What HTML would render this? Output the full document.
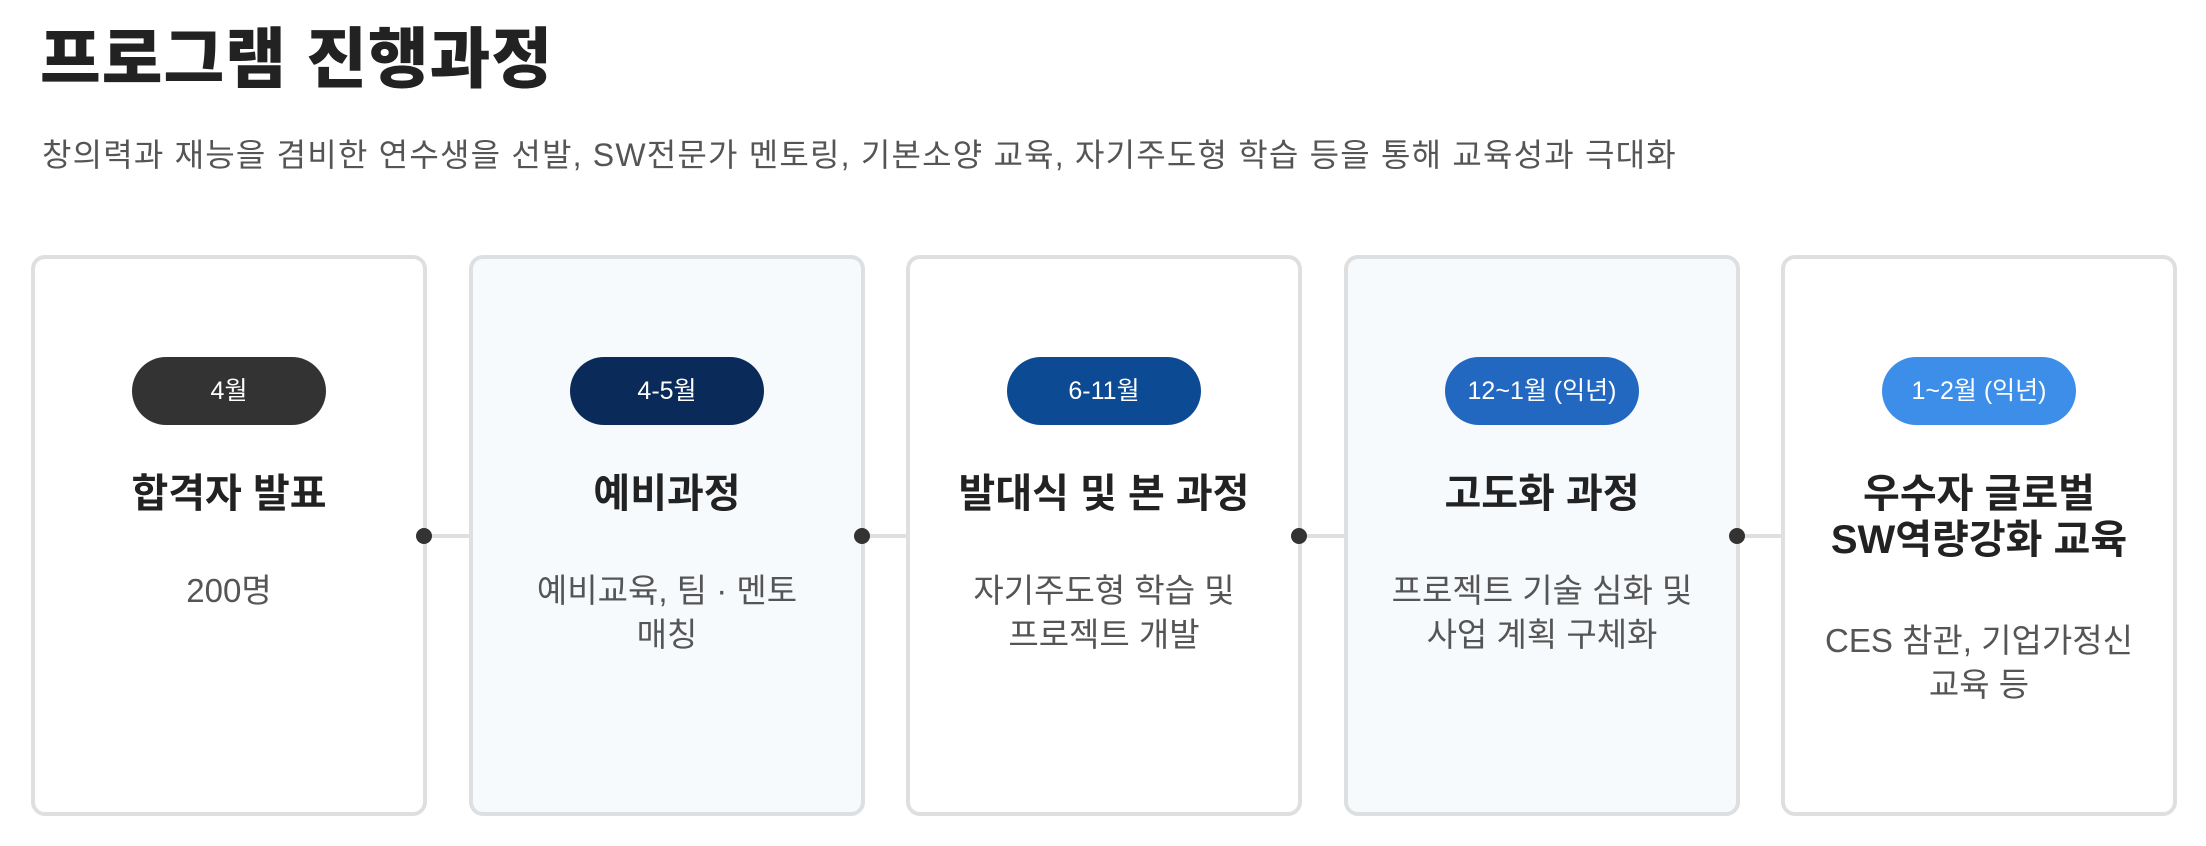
<!DOCTYPE html>
<html><head><meta charset="utf-8"><style>
*{margin:0;padding:0;box-sizing:border-box}
body{width:2206px;height:846px;background:#fff;font-family:"Liberation Sans","Noto Sans CJK KR",sans-serif;position:relative;overflow:hidden}
h1{position:absolute;left:40px;top:6px;font-size:66px;font-weight:900;color:#222;letter-spacing:1px}
.sub{position:absolute;left:42px;top:130px;font-size:32px;color:#555;letter-spacing:1.2px}
.card{position:absolute;top:255px;width:396px;height:561px;border:4px solid #dedfe0;border-radius:14px;background:#fff;text-align:center}
.card.alt{background:#f7fafd}
.pill{position:absolute;left:97px;top:98px;width:194px;height:68px;border-radius:34px;color:#fff;font-size:25px;line-height:68px}
.t{position:absolute;left:0;right:0;top:212px}
.h{font-size:40px;font-weight:bold;color:#222;line-height:46px}
.d{font-size:33px;color:#555;line-height:44px;margin-top:52px}
.dot{position:absolute;width:16px;height:16px;border-radius:50%;background:#333;top:528px}
.ln{position:absolute;height:4px;background:#dedfe0;top:534px;width:42px}
</style></head><body>
<h1>프로그램 진행과정</h1>
<div class="sub">창의력과 재능을 겸비한 연수생을 선발, SW전문가 멘토링, 기본소양 교육, 자기주도형 학습 등을 통해 교육성과 극대화</div>

<div class="card" style="left:31px"><div class="pill" style="background:#333">4월</div>
<div class="t"><div class="h">합격자 발표</div><div class="d">200명</div></div></div>

<div class="card alt" style="left:469px"><div class="pill" style="background:#0a2a5a">4-5월</div>
<div class="t"><div class="h">예비과정</div><div class="d">예비교육, 팀 · 멘토<br>매칭</div></div></div>

<div class="card" style="left:906px"><div class="pill" style="background:#0d4a94">6-11월</div>
<div class="t"><div class="h">발대식 및 본 과정</div><div class="d">자기주도형 학습 및<br>프로젝트 개발</div></div></div>

<div class="card alt" style="left:1344px"><div class="pill" style="background:#2368c0">12~1월 (익년)</div>
<div class="t"><div class="h">고도화 과정</div><div class="d">프로젝트 기술 심화 및<br>사업 계획 구체화</div></div></div>

<div class="card" style="left:1781px"><div class="pill" style="background:#3d8ee8">1~2월 (익년)</div>
<div class="t"><div class="h">우수자 글로벌<br>SW역량강화 교육</div><div class="d" style="margin-top:56px">CES 참관, 기업가정신<br>교육 등</div></div></div>

<div class="ln" style="left:427px"></div><div class="dot" style="left:416px"></div>
<div class="ln" style="left:865px"></div><div class="dot" style="left:854px"></div>
<div class="ln" style="left:1302px"></div><div class="dot" style="left:1291px"></div>
<div class="ln" style="left:1740px"></div><div class="dot" style="left:1729px"></div>
</body></html>
